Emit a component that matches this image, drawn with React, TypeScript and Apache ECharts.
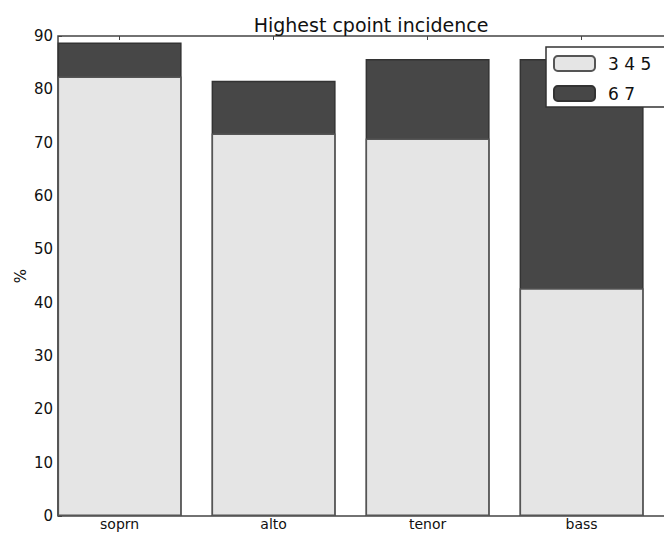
import React, { useEffect, useRef } from "react";
import * as echarts from "echarts";

const categories = ["soprn", "alto", "tenor", "bass"];
const positions = [0.4, 1.4, 2.4, 3.4];
const low345 = [82.4, 71.7, 70.8, 42.7];
const high67 = [6.4, 9.9, 14.9, 43.0];
const seriesNames = ["3 4 5", "6 7"];

const FONT = "DejaVu Sans";

export default function App() {
  const ref = useRef<HTMLDivElement>(null);
  useEffect(() => {
    if (!ref.current) return;
    const chart = echarts.init(ref.current, undefined, { renderer: "svg" });
    const labelOf = (v: number) => {
      const i = positions.findIndex((p) => Math.abs(p - v) < 1e-6);
      return i >= 0 ? categories[i] : "";
    };
    const totals = low345.map((v, i) => v + high67[i]);
    chart.setOption({
      animation: false,
      backgroundColor: "#ffffff",
      title: {
        text: "Highest cpoint incidence",
        left: 366,
        textAlign: "center",
        top: 10,
        textStyle: { fontFamily: FONT, fontSize: 19, fontWeight: "normal", color: "#111" },
      },
      legend: {
        data: seriesNames,
        orient: "vertical",
        left: 546,
        top: 47,
        icon: "roundRect",
        itemWidth: 41,
        itemHeight: 15,
        itemGap: 13,
        padding: [8, 40, 5, 7],
        backgroundColor: "#ffffff",
        borderColor: "#333",
        borderWidth: 1.5,
        textStyle: { fontFamily: FONT, fontSize: 17, color: "#111", padding: [0, 0, 0, 8] },
      },
      grid: {
        left: 58,
        right: 6,
        top: 36,
        bottom: 17,
        outerBoundsMode: "none",
        containLabel: false,
        show: true,
        borderColor: "#444",
        borderWidth: 1.5,
        backgroundColor: "transparent",
      },
      xAxis: [
        {
          type: "value",
          min: 0,
          max: 4,
          position: "bottom",
          splitLine: { show: false },
          axisLine: { show: false },
          axisTick: { inside: true, length: 4, lineStyle: { color: "#444" }, customValues: positions },
          axisLabel: {
            customValues: positions,
            formatter: (v: number) => labelOf(v),
            fontFamily: FONT,
            fontSize: 14,
            lineHeight: 14,
            color: "#111",
            margin: 1,
          },
        },
        {
          type: "value",
          min: 0,
          max: 4,
          position: "top",
          splitLine: { show: false },
          axisLine: { show: false },
          axisTick: { inside: true, length: 4, lineStyle: { color: "#444" }, customValues: positions },
          axisLabel: { show: false },
        },
      ],
      yAxis: [
        {
          type: "value",
          min: 0,
          max: 90,
          interval: 10,
          name: "%",
          nameLocation: "middle",
          nameGap: 30,
          nameMoveOverlap: false,
          nameTextStyle: { fontFamily: FONT, fontSize: 15, color: "#111" },
          splitLine: { show: false },
          axisLine: { show: false },
          axisTick: { inside: true, length: 4, lineStyle: { color: "#444" } },
          axisLabel: { fontFamily: FONT, fontSize: 15, color: "#111", margin: 5 },
        },
      ],
      series: [
        {
          name: seriesNames[1],
          type: "bar",
          barWidth: 124,
          barGap: "-100%",
          data: positions.map((p, i) => [p, totals[i]]),
          itemStyle: { color: "#474747", borderColor: "#333", borderWidth: 1.5 },
          z: 2,
        },
        {
          name: seriesNames[0],
          type: "bar",
          barWidth: 124,
          barGap: "-100%",
          data: positions.map((p, i) => [p, low345[i]]),
          itemStyle: { color: "#e5e5e5", borderColor: "#555", borderWidth: 1.5 },
          z: 3,
        },
      ],
    });
    return () => chart.dispose();
  }, []);
  return (
    <div style={{ width: 664, height: 533, position: "absolute", left: 0, top: 0, overflow: "hidden" }}>
      <div ref={ref} style={{ width: 680, height: 533 }} />
    </div>
  );
}
